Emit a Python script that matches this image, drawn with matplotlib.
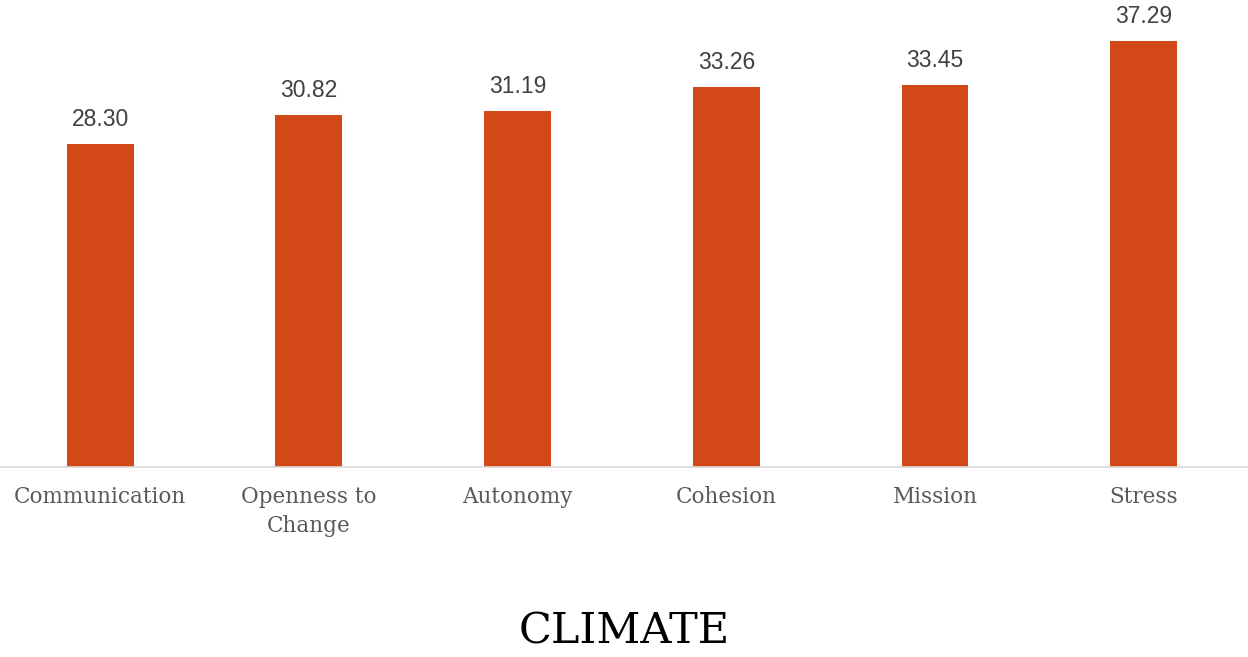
import matplotlib
matplotlib.use("Agg")
from matplotlib import pyplot as plt

categories = ['Communication', 'Openness to\nChange', 'Autonomy', 'Cohesion', 'Mission', 'Stress']
values = [28.30, 30.82, 31.19, 33.26, 33.45, 37.29]

fig = plt.figure(figsize=(12.48, 6.57), dpi=100)
ax = fig.add_axes([0, 1 - 467 / 657, 1, 467 / 657])

x = range(len(categories))
ax.bar(x, values, width=0.32, color='#D24817', zorder=2)
for i, v in zip(x, values):
    ax.text(i, v + 1.15, f"{v:.2f}", ha='center', va='bottom',
            fontsize=16.5, color='#404040', family='Liberation Sans')

ax.set_xlim(-0.48, 5.5)
ax.set_ylim(0, 40.9)
ax.set_xticks(list(x))
ax.set_xticklabels(categories, fontsize=15.5, color='#595959',
                   family='DejaVu Serif', linespacing=1.45)
ax.tick_params(axis='x', length=0, pad=13.5)
ax.set_yticks([])
for s in ['top', 'left', 'right']:
    ax.spines[s].set_visible(False)
ax.spines['bottom'].set_color('#D9D9D9')
ax.spines['bottom'].set_linewidth(1.2)

fig.text(0.5, 1 - 632 / 657, 'CLIMATE', ha='center', va='center',
         fontsize=31, family='DejaVu Serif', color='black')

fig.savefig('out.png', dpi=100)
